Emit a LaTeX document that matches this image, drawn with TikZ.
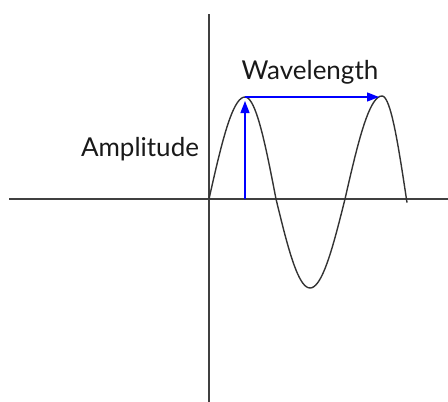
\documentclass[tikz,border=0pt]{standalone}
\usepackage{fontspec}
\setmainfont{Lato}
\usetikzlibrary{arrows.meta}
\begin{document}
\begin{tikzpicture}[x=1pt,y=-1pt,
  axis/.style={draw=black!75,line width=1.1pt},
  wave/.style={draw=black!80,line width=1.4pt,line join=round},
  dim/.style={draw=blue,line width=1.3pt,-{Triangle[length=12pt,width=9pt]}},
  lbl/.style={font=\fontsize{26}{30}\selectfont,text=black!90,inner sep=0pt}]
\useasboundingbox (0,0) rectangle (448,402);
\draw[axis] (209,14) -- (209,402);
\draw[axis] (9,199) -- (448,199);
\draw[wave]
  plot[domain=0:90,samples=20,variable=\t] ({209+36*\t/90},{199-102*sin(\t)})
  -- plot[domain=0:90,samples=20,variable=\t] ({245+31*\t/90},{199-102*cos(\t)})
  -- plot[domain=0:90,samples=20,variable=\t] ({276+34*\t/90},{199+89*sin(\t)})
  -- plot[domain=0:90,samples=20,variable=\t] ({310+35*\t/90},{199+89*cos(\t)})
  -- plot[domain=0:90,samples=20,variable=\t] ({345+37*\t/90},{199-103*sin(\t)})
  -- plot[domain=0:92,samples=20,variable=\t] ({382+25*\t/92},{199-103*cos(\t)});
\coordinate (F) at (245,199);
\coordinate (P1) at (245,101);
\coordinate (P1h) at (245,97);
\coordinate (P2) at (379,97);
\draw[dim] (F) -- (P1);
\draw[dim] (P1h) -- (P2);
\node[lbl] (wl) at (310,72) {Wavelength};
\node[lbl] (amp) at (140,149) {Amplitude};
\end{tikzpicture}
\end{document}
